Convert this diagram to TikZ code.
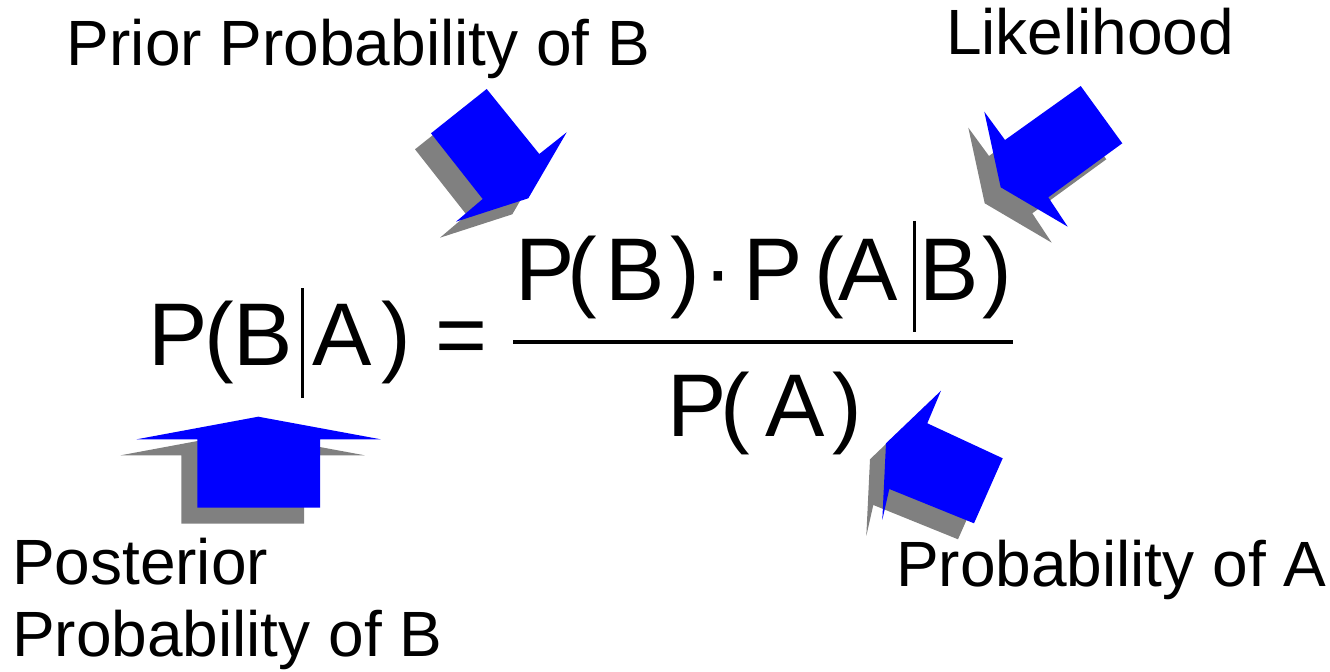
\documentclass[tikz,border=0pt]{standalone}
\usepackage{fontspec}
\setmainfont{Liberation Sans}
\definecolor{arrowblue}{HTML}{0000FF}
\definecolor{shadowgray}{HTML}{808080}
\begin{document}
\begin{tikzpicture}[x=0.5pt,y=-0.5pt,
  lbl/.style={inner sep=0pt, outer sep=0pt, anchor=base west, font=\fontsize{32}{38}\selectfont},
  glyph/.style={inner sep=0pt, outer sep=0pt, anchor=base, font=\fontsize{44.5}{50}\selectfont},
  vbar/.style={line width=1.5pt},
  fracrule/.style={line width=2pt}]
\useasboundingbox (0,0) rectangle (1330,672);

% ---- block arrows with drop shadows ----
\foreach \dx/\dy/\c in {-16/16/shadowgray, 0/0/arrowblue}{
  % posterior (up)
  \fill[\c, shift={(\dx,\dy)}] (258.3,416.7) -- (380.7,439.3) -- (320,439.3) -- (320,507.7)
      -- (197.3,507.7) -- (197.3,439.3) -- (136.7,439.3) -- cycle;
  % prior
  \fill[\c, shift={(\dx,\dy)}] (486.7,89) -- (539.3,154) -- (566.7,132.3) -- (528.3,198.3)
      -- (456,221.7) -- (482.7,199) -- (431,133.3) -- cycle;
  % likelihood
  \fill[\c, shift={(\dx,\dy)}] (1080.7,86) -- (1122.3,143.3) -- (1048.3,197.3) -- (1067.7,226.7)
      -- (1000.7,187.3) -- (984.3,111.7) -- (1005,140) -- cycle;
  % probability of A
  \fill[\c, shift={(\dx,\dy)}] (941,390.7) -- (927.3,423.3) -- (1002.7,458.3) -- (974,523.3)
      -- (889.3,489) -- (882.3,520) -- (886,443.3) -- cycle;
}

% ---- labels ----
\node[lbl] (prior) at (67,66) {Prior Probability of B};
\node[lbl] (like) at (946,55) {Likelihood};
\node[lbl] (post1) at (12,585) {Posterior};
\node[lbl] (post2) at (12,656.7) {Probability of B};
\node[lbl] (proba) at (896,586.7) {Probability of A};

% ---- left-hand side P(B|A) = ----
\node[glyph] (lP) at (178,366) {P};
\node[glyph] (lo) at (219,366) {(};
\node[glyph] (lB) at (263,366) {B};
\node[glyph] (lA) at (342.5,366) {A};
\node[glyph] (lc) at (396.7,366) {)};
\node[glyph] (eq) at (461,366) {=};
\coordinate (lbt) at (302.3,288.3);
\coordinate (lbb) at (302.3,398.3);
\draw[vbar] (lbt) -- (lbb);

% ---- numerator P(B)·P(A|B) ----
\node[glyph] (nP1) at (545,301) {P};
\node[glyph] (no1) at (582.5,301) {(};
\node[glyph] (nB1) at (635,301) {B};
\node[glyph] (nc1) at (685,301) {)};
\node[glyph] (ndot) at (718.3,301) {·};
\node[glyph] (nP2) at (773,301) {P};
\node[glyph] (no2) at (829,301) {(};
\node[glyph] (nA) at (868,301) {A};
\node[glyph] (nB2) at (949,301) {B};
\node[glyph] (nc2) at (997.5,301) {)};
\coordinate (nbt) at (914,221);
\coordinate (nbb) at (914,331.7);
\draw[vbar] (nbt) -- (nbb);

% ---- fraction rule ----
\coordinate (fl) at (513,342);
\coordinate (fr) at (1013,342);
\draw[fracrule] (fl) -- (fr);

% ---- denominator P(A) ----
\node[glyph] (dP) at (697,436.7) {P};
\node[glyph] (do) at (735,436.7) {(};
\node[glyph] (dA) at (795,436.7) {A};
\node[glyph] (dc) at (847,436.7) {)};
\end{tikzpicture}
\end{document}
